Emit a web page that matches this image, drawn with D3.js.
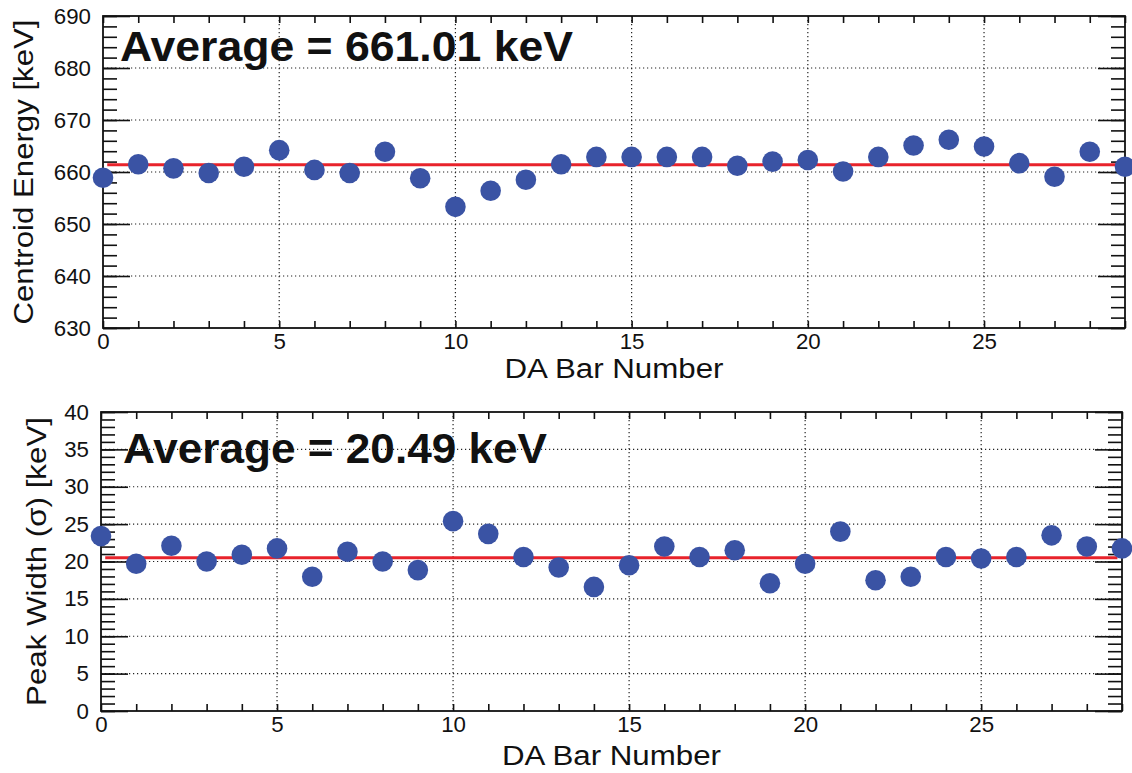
<!DOCTYPE html>
<html lang="en">
<head>
<meta charset="utf-8">
<script src="https://d3js.org/d3.v7.min.js"></script>
<title>DA Bar centroid and width</title>
<style>
  body { margin: 0; background: #fff; }
  text { font-family: "Liberation Sans", Arial, Helvetica, sans-serif; fill: #111; }
</style>
</head>
<body>
<div id="chart"></div>
<script>
// bar numbers (x categories)
var barNumber = [0, 1, 2, 3, 4, 5, 6, 7, 8, 9, 10, 11, 12, 13, 14,
                 15, 16, 17, 18, 19, 20, 21, 22, 23, 24, 25, 26, 27, 28, 29];

// centroid energy per bar [keV]
var centroid = [658.9, 661.5, 660.7, 659.8, 661.0, 664.2, 660.4, 659.8, 663.9, 658.8,
                653.3, 656.4, 658.5, 661.5, 662.9, 662.9, 662.9, 662.9, 661.2, 662.0,
                662.3, 660.1, 662.9, 665.1, 666.2, 664.9, 661.7, 659.1, 663.9, 661.0];

// peak width (sigma) per bar [keV]
var peakWidth = [23.4, 19.7, 22.1, 20.0, 20.9, 21.75, 17.95, 21.3, 20.0, 18.85,
                 25.4, 23.7, 20.6, 19.2, 16.6, 19.5, 22.0, 20.6, 21.5, 17.1,
                 19.7, 24.0, 17.5, 17.95, 20.6, 20.4, 20.6, 23.5, 22.0, 21.75];

// fitted constant lines and their range
var fitLevel = [661.4, 20.5];
var fitRange = [0.12, 28.87];
var averageText = ["Average = 661.01 keV", "Average = 20.49 keV"];

var xTicksLabelled = [0, 5, 10, 15, 20, 25];
var yMajorTop = [630, 640, 650, 660, 670, 680, 690];
var yMajorBottom = [0, 5, 10, 15, 20, 25, 30, 35, 40];

var W = 1132, H = 773;
var svg = d3.select("#chart").append("svg")
    .attr("width", W).attr("height", H);

var panels = [
  { values: centroid, ydom: [630, 690], majors: yMajorTop, minorStep: 2,
    left: 103, right: 1125, top: 16, bottom: 328,
    ytitle: "Centroid Energy [keV]", ytitleX: 33, ytitleLen: 305,
    xtitleY: 378, avgX: 120, avgY: 61, avgLen: 453 },
  { values: peakWidth, ydom: [0, 40], majors: yMajorBottom, minorStep: 1,
    left: 101, right: 1122, top: 412, bottom: 711,
    ytitle: "Peak Width (\u03c3) [keV]", ytitleX: 46, ytitleLen: 289,
    xtitleY: 765, avgX: 123, avgY: 463, avgLen: 424 }
];

// slightly wide tick labels, as in the original
function styleTickText(sel) {
  sel.selectAll("text")
    .style("font-size", "22px")
    .attr("textLength", function() {
      var s = d3.select(this).text();
      return s.length ? s.length * 12.4 : null;
    })
    .attr("lengthAdjust", "spacingAndGlyphs");
}

panels.forEach(function(p, i) {
  var x = d3.scaleLinear().domain([0, 29]).range([p.left, p.right]);
  var y = d3.scaleLinear().domain(p.ydom).range([p.bottom, p.top]);
  var g = svg.append("g");

  var minors = d3.range(p.ydom[0], p.ydom[1] + 0.001, p.minorStep);

  // dotted grid
  g.selectAll(".vgrid").data([5, 10, 15, 20, 25]).enter().append("line")
    .attr("x1", function(d) { return x(d); }).attr("x2", function(d) { return x(d); })
    .attr("y1", p.top).attr("y2", p.bottom)
    .attr("stroke", "#222").attr("stroke-width", 1.2).attr("stroke-dasharray", "1.2,2.8");
  g.selectAll(".hgrid").data(p.majors.slice(1, -1)).enter().append("line")
    .attr("x1", p.left).attr("x2", p.right)
    .attr("y1", function(d) { return y(d); }).attr("y2", function(d) { return y(d); })
    .attr("stroke", "#222").attr("stroke-width", 1.2).attr("stroke-dasharray", "1.2,2.8");

  // left axis: major + minor ticks, inward
  var la = g.append("g").attr("transform", "translate(" + p.left + ",0)")
    .call(d3.axisLeft(y).tickValues(p.majors).tickSize(-27).tickPadding(12)
      .tickFormat(d3.format("d")));
  styleTickText(la);
  g.append("g").attr("transform", "translate(" + p.left + ",0)")
    .call(d3.axisLeft(y).tickValues(minors).tickSize(-14).tickFormat(""));

  // right axis mirror
  g.append("g").attr("transform", "translate(" + p.right + ",0)")
    .call(d3.axisRight(y).tickValues(p.majors).tickSize(-27).tickFormat(""));
  g.append("g").attr("transform", "translate(" + p.right + ",0)")
    .call(d3.axisRight(y).tickValues(minors).tickSize(-14).tickFormat(""));

  // bottom & top axes
  var ba = g.append("g").attr("transform", "translate(0," + p.bottom + ")")
    .call(d3.axisBottom(x).tickValues(barNumber).tickSize(-7).tickPadding(5)
      .tickFormat(function(d) { return xTicksLabelled.indexOf(d) >= 0 ? d : ""; }));
  styleTickText(ba);
  g.append("g").attr("transform", "translate(0," + p.top + ")")
    .call(d3.axisTop(x).tickValues(barNumber).tickSize(-7).tickFormat(""));

  g.selectAll(".domain").remove();
  g.selectAll(".tick line").attr("stroke", "#111").attr("stroke-width", 1.6);

  // frame
  g.append("rect").attr("x", p.left).attr("y", p.top)
    .attr("width", p.right - p.left).attr("height", p.bottom - p.top)
    .attr("fill", "none").attr("stroke", "#111").attr("stroke-width", 1.8);

  // fit line
  g.append("line")
    .attr("x1", x(fitRange[0])).attr("x2", x(fitRange[1]))
    .attr("y1", y(fitLevel[i])).attr("y2", y(fitLevel[i]))
    .attr("stroke", "#e8232b").attr("stroke-width", 3);

  // points
  g.selectAll(".pt").data(p.values).enter().append("circle")
    .attr("cx", function(d, j) { return x(barNumber[j]); })
    .attr("cy", function(d) { return y(d); })
    .attr("r", 10.3)
    .attr("fill", "#3a53a4");

  // titles
  g.append("text")
    .attr("x", (p.left + p.right) / 2).attr("y", p.xtitleY)
    .attr("text-anchor", "middle").style("font-size", "27px")
    .attr("textLength", 219).attr("lengthAdjust", "spacingAndGlyphs")
    .text("DA Bar Number");
  g.append("text")
    .attr("transform", "translate(" + p.ytitleX + "," + ((p.top + p.bottom) / 2) + ") rotate(-90)")
    .attr("text-anchor", "middle").style("font-size", "28px")
    .attr("textLength", p.ytitleLen).attr("lengthAdjust", "spacingAndGlyphs")
    .text(p.ytitle);

  g.append("text")
    .attr("x", p.avgX).attr("y", p.avgY)
    .style("font-size", "42px").style("font-weight", "bold")
    .attr("textLength", p.avgLen).attr("lengthAdjust", "spacingAndGlyphs")
    .text(averageText[i]);
});
</script>
</body>
</html>
